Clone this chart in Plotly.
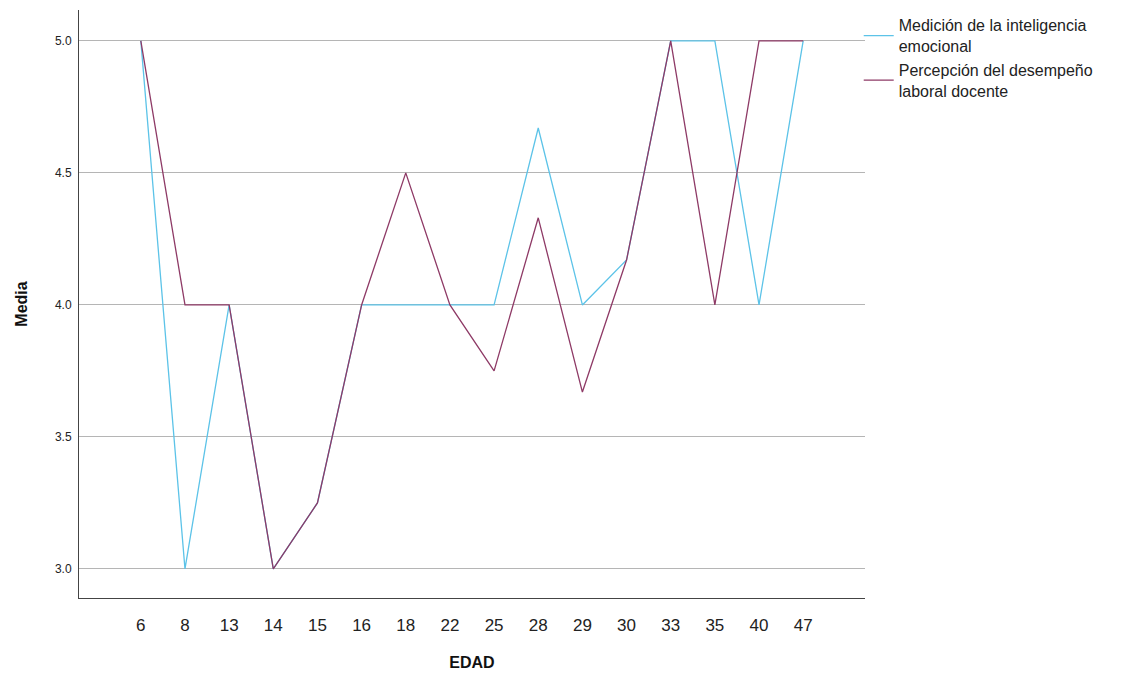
import plotly.graph_objects as go

edad = ["6", "8", "13", "14", "15", "16", "18", "22", "25", "28", "29", "30", "33", "35", "40", "47"]
inteligencia = [5.0, 3.0, 4.0, 3.0, 3.25, 4.0, 4.0, 4.0, 4.0, 4.67, 4.0, 4.17, 5.0, 5.0, 4.0, 5.0]
desempeno = [5.0, 4.0, 4.0, 3.0, 3.25, 4.0, 4.5, 4.0, 3.75, 4.33, 3.67, 4.17, 5.0, 4.0, 5.0, 5.0]

font = "Arial, Liberation Sans, sans-serif"

fig = go.Figure()
fig.add_trace(go.Scatter(
    x=edad, y=inteligencia, mode="lines",
    name="Medición de la inteligencia<br>emocional",
    line=dict(color="#5cc3e8", width=1.3),
))
fig.add_trace(go.Scatter(
    x=edad, y=desempeno, mode="lines",
    name="Percepción del desempeño<br>laboral docente",
    line=dict(color="#8e3a66", width=1.3),
))

fig.update_layout(
    width=1122, height=673,
    margin=dict(l=71, r=265, t=2, b=83, autoexpand=False),
    paper_bgcolor="white", plot_bgcolor="white",
    font=dict(family=font, color="#222222"),
    showlegend=True,
    legend=dict(
        x=0.992, y=1.003, xanchor="left", yanchor="top",
        font=dict(size=16, family=font, color="#222222"),
        tracegroupgap=0, itemwidth=30,
        bgcolor="rgba(0,0,0,0)",
    ),
    xaxis=dict(
        type="category", range=[-1.4, 16.4],
        showgrid=False, zeroline=False,
        showline=True, linecolor="#444444", linewidth=1,
        ticks="outside", ticklen=12, tickcolor="rgba(0,0,0,0)",
        tickfont=dict(size=17, family=font, color="#222222"),
        title=dict(text="<b>EDAD</b>", font=dict(size=16, family=font, color="#111111"), standoff=22),
    ),
    yaxis=dict(
        range=[2.89, 5.117],
        tickvals=[3.0, 3.5, 4.0, 4.5, 5.0],
        ticktext=["3.0", "3.5", "4.0", "4.5", "5.0"],
        showgrid=True, gridcolor="#b5b5b5", gridwidth=1,
        zeroline=False,
        showline=True, linecolor="#444444", linewidth=1,
        ticks="outside", ticklen=4, tickcolor="rgba(0,0,0,0)",
        tickfont=dict(size=12, family=font, color="#222222"),
        title=dict(text="<b>Media</b>", font=dict(size=16, family=font, color="#111111"), standoff=23),
    ),
)

fig.write_html("out.html")
